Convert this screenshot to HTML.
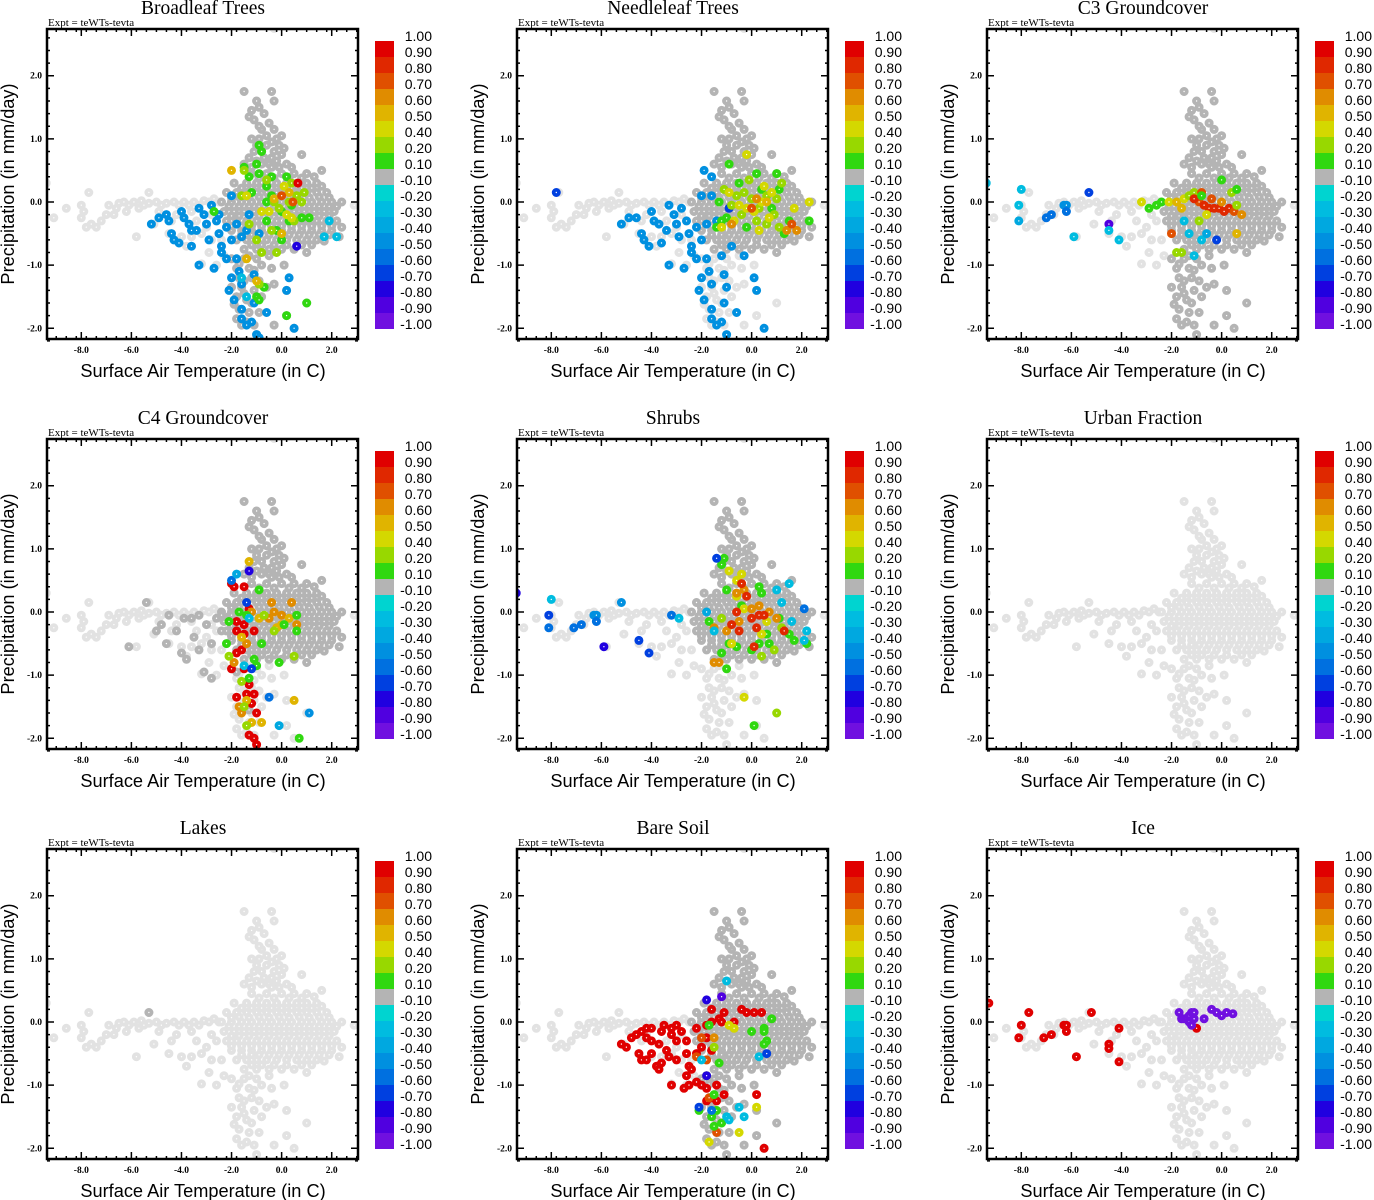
<!DOCTYPE html>
<html><head><meta charset="utf-8"><style>
html,body{margin:0;padding:0;background:#fff;}
svg{display:block;}
.ttl{font-family:"Liberation Serif",serif;font-size:19.5px;}
.expt{font-family:"Liberation Serif",serif;font-size:11px;}
.tick{font-family:"Liberation Serif",serif;font-size:9.5px;font-weight:bold;}
.axt{font-family:"Liberation Sans",sans-serif;font-size:18.2px;}
.cbl{font-family:"Liberation Sans",sans-serif;font-size:14px;}
</style></head><body>
<svg id="fig" xmlns="http://www.w3.org/2000/svg" width="1374" height="1200" viewBox="0 0 1374 1200"></svg>
<script>
// ---- data ----
const panelTitles = ["Broadleaf Trees","Needleleaf Trees","C3 Groundcover","C4 Groundcover","Shrubs","Urban Fraction","Lakes","Bare Soil","Ice"];
const xTicks = [-8,-6,-4,-2,0,2];
const xTickLabels = ["-8.0","-6.0","-4.0","-2.0","0.0","2.0"];
const yTicks = [-2,-1,0,1,2];
const yTickLabels = ["-2.0","-1.0","0.0","1.0","2.0"];
const cbBounds = [1,0.9,0.8,0.7,0.6,0.5,0.4,0.2,0.1,-0.1,-0.2,-0.3,-0.4,-0.5,-0.6,-0.7,-0.8,-0.9,-1];
const cbLabels = ["1.00","0.90","0.80","0.70","0.60","0.50","0.40","0.20","0.10","-0.10","-0.20","-0.30","-0.40","-0.50","-0.60","-0.70","-0.80","-0.90","-1.00"];
const cbColors = ["#e00000","#e02800","#e05000","#e08c00","#e0b400","#d4d800","#98d800","#30d810","#b4b4b4","#00d4d0","#00bce0","#00a8e0","#0090e0","#0070e0","#0040e0","#2000e0","#5000e0","#7010e0"];

const cloudBand = [[-9.1,-0.25],[-8.6,-0.1],[-8.0,-0.05],[-7.9,-0.15],[-7.8,-0.4],[-7.6,-0.35],[-7.4,-0.4],[-7.2,-0.3],[-7.0,-0.2],[-6.9,-0.05],[-6.7,-0.2],[-6.5,-0.02],[-6.3,0.0],[-6.1,-0.05],[-5.9,0.0],[-5.7,-0.1],[-5.5,-0.05],[-5.3,-0.02],[-5.1,-0.35],[-5.0,0.0],[-4.8,-0.05],[-4.6,-0.02],[-4.5,-0.5],[-4.4,-0.3],[-4.3,0.0],[-4.1,-0.05],[-4.0,-0.55],[-3.9,0.0],[-3.8,-0.7],[-3.7,-0.05],[-3.5,0.0],[-3.4,-0.3],[-3.3,-0.05],[-3.1,0.02],[-3.0,-0.4],[-2.9,0.0],[-2.8,-0.6],[-2.7,0.05],[-2.6,-0.3],[-2.5,0.0],[-5.8,-0.55],[-7.7,0.15],[-5.3,0.15],[-8.0,-0.25],[-6.2,-0.15],[-3.2,-0.98],[-2.9,-0.8],[-2.6,-1.0],[2.9,-0.05],[-9.4,0.3],[-0.3,2.75],[-6.6,-0.1],[-5.6,0.02],[-4.9,-0.15],[-4.2,-0.2],[-3.6,-0.15],[-3.2,-0.5],[-2.8,-0.2],[-3.6,-0.55],[-2.4,-0.6],[-2.3,-0.85]];
const cloudCore = [
[-1.2,0.45],[-0.6,0.45],[0.0,0.45],[0.5,0.45],[1.0,0.45],[1.6,0.5],
[-1.9,0.3],[-1.4,0.3],[-1.0,0.3],[-0.6,0.3],[-0.2,0.3],[0.2,0.3],[0.6,0.3],[1.0,0.3],[1.4,0.3],
[-2.2,0.15],[-1.8,0.15],[-1.4,0.15],[-1.0,0.15],[-0.6,0.15],[-0.2,0.15],[0.2,0.15],[0.6,0.15],[1.0,0.15],[1.4,0.15],[1.8,0.15],
[-2.4,0.0],[-2.0,0.0],[-1.6,0.0],[-1.2,0.0],[-0.8,0.0],[-0.4,0.0],[0.0,0.0],[0.4,0.0],[0.8,0.0],[1.2,0.0],[1.6,0.0],[2.0,0.0],[2.4,0.0],
[-2.3,-0.15],[-1.9,-0.15],[-1.5,-0.15],[-1.1,-0.15],[-0.7,-0.15],[-0.3,-0.15],[0.1,-0.15],[0.5,-0.15],[0.9,-0.15],[1.3,-0.15],[1.7,-0.15],[2.1,-0.15],
[-2.2,-0.3],[-1.8,-0.3],[-1.4,-0.3],[-1.0,-0.3],[-0.6,-0.3],[-0.2,-0.3],[0.2,-0.3],[0.6,-0.3],[1.0,-0.3],[1.4,-0.3],[1.8,-0.3],[2.2,-0.3],
[-2.0,-0.45],[-1.6,-0.45],[-1.2,-0.45],[-0.8,-0.45],[-0.4,-0.45],[0.0,-0.45],[0.4,-0.45],[0.8,-0.45],[1.2,-0.45],[1.6,-0.45],[2.0,-0.45],[2.3,-0.55],
[-1.8,-0.6],[-1.4,-0.6],[-1.0,-0.6],[-0.6,-0.6],[-0.2,-0.6],[0.2,-0.6],[0.6,-0.6],[1.0,-0.6],[1.4,-0.6],
[-1.5,-0.75],[-1.0,-0.75],[-0.5,-0.75],[0.0,-0.75],[0.5,-0.75],[1.0,-0.8],
[-1.7,0.08],[-0.9,0.08],[-0.1,0.08],[0.7,0.08],[1.5,0.08],[-1.3,-0.22],[-0.5,-0.22],[0.3,-0.22],[1.1,-0.22],[1.9,-0.22],[-0.9,-0.52],[-0.1,-0.52],[0.7,-0.52],[1.5,-0.52],
[-0.9,0.38],[-0.3,0.38],[0.3,0.38],[0.8,0.38],[1.3,0.4],[-1.6,0.22],[-1.2,0.22],[-0.8,0.22],[-0.4,0.22],[0.0,0.22],[0.4,0.22],[0.8,0.22],[1.2,0.22],[1.6,0.25],
[-2.0,0.07],[-1.3,0.07],[-0.5,0.07],[0.3,0.07],[1.1,0.07],[1.9,0.07],[2.2,-0.07],[-2.1,-0.07],[-1.7,-0.07],[-1.3,-0.07],[-0.9,-0.07],[-0.5,-0.07],[-0.1,-0.07],[0.3,-0.07],[0.7,-0.07],[1.1,-0.07],[1.5,-0.07],[1.9,-0.07],
[-2.0,-0.22],[-1.7,-0.22],[-0.9,-0.22],[-0.1,-0.22],[0.7,-0.22],[1.5,-0.22],[2.4,-0.4],[-2.0,-0.38],[-1.6,-0.38],[-1.2,-0.38],[-0.8,-0.38],[-0.4,-0.38],[0.0,-0.38],[0.4,-0.38],[0.8,-0.38],[1.2,-0.38],[1.6,-0.38],[2.0,-0.38],
[-1.6,-0.52],[-1.2,-0.52],[-0.5,-0.52],[0.3,-0.52],[1.1,-0.52],[1.9,-0.52],[-1.2,-0.68],[-0.8,-0.68],[-0.3,-0.68],[0.2,-0.68],[0.8,-0.68],[1.2,-0.68],[1.7,-0.62]];
const cloudSpike = [[-1.5,1.75],[-0.4,1.75],[-1.0,1.6],[-0.3,1.6],[-0.9,1.5],[-1.3,1.35],[-0.7,1.4],[-1.1,1.3],[-0.5,1.25],[-0.3,1.15],[-0.8,1.15],[-1.2,1.0],[-0.6,1.05],[0.0,1.05],[-1.0,0.9],[-0.4,0.95],[-0.1,0.9],[-1.3,0.7],[-0.8,0.8],[-0.3,0.8],[0.0,0.75],[-1.5,0.6],[-1.0,0.65],[-0.5,0.6],[0.2,0.6],[0.8,0.75],[-0.1,0.55],[-0.7,0.7],[-1.2,0.55],[-0.4,0.55],[-0.9,1.2],[-0.6,0.9],[-0.2,1.0],[-1.1,0.8],[-0.8,0.6],[-0.4,0.7],[0.1,0.85],[-1.2,1.45],[-0.2,0.65],[0.4,0.55],[-0.9,1.0]];
const cloudTail = [[-2.0,-0.9],[-1.5,-0.9],[-1.0,-0.9],[-0.5,-0.85],[-1.8,-1.05],[-1.3,-1.05],[-0.8,-1.0],[-1.7,-1.2],[-1.2,-1.2],[-0.9,-1.25],[-2.0,-1.35],[-1.6,-1.35],[-1.1,-1.4],[-0.6,-1.35],[-1.8,-1.5],[-1.4,-1.55],[-0.8,-1.5],[-1.7,-1.7],[-1.3,-1.75],[-0.9,-1.75],[-1.8,-1.85],[-1.4,-1.9],[-1.1,-1.95],[-0.3,-1.95],[-1.0,-2.1],[0.2,-1.8],[1.0,-1.6],[0.5,-2.0],[0.2,-1.4],[-0.3,-1.3],[0.1,-1.0],[-1.7,-0.98],[-1.1,-1.08],[-1.5,-1.25],[-1.9,-1.62],[-1.5,-1.45],[-1.2,-1.6],[-1.6,-1.95],[-0.4,-1.05],[-1.3,-0.85]];

const darkGroupsByPanel = [["core","spike","tail"],["core","spike"],["core","spike","tail"],["core","spike"],["core","spike"],[],[],["core","spike","tail"],[]];

const broadleafPts = [[-5.2,-0.35,-0.45],[-4.9,-0.25,-0.45],[-4.6,-0.2,-0.45],[-4.4,-0.5,-0.45],[-4.3,-0.6,-0.45],[-4.1,-0.65,-0.45],[-4.0,-0.15,-0.45],[-3.9,-0.25,-0.45],[-3.7,-0.35,-0.45],[-3.6,-0.7,-0.45],[-3.4,-0.45,-0.45],[-3.3,-0.1,-0.45],[-3.1,-0.2,-0.45],[-3.0,-0.35,-0.45],[-2.8,-0.05,-0.45],[-2.9,-0.6,-0.45],[-2.6,-0.3,-0.45],[-2.5,-0.5,-0.45],[-2.4,-0.7,-0.45],[-2.2,-0.4,-0.45],[-2.0,0.1,-0.45],[-2.0,-0.6,-0.45],[-1.8,-0.35,-0.45],[-1.8,-0.9,-0.45],[-2.2,-0.9,-0.45],[-3.3,-1.0,-0.45],[-2.7,-1.05,-0.45],[-2.4,-0.8,-0.45],[-2.0,-1.2,-0.45],[-1.7,-1.1,-0.45],[-1.6,-1.3,-0.45],[-2.1,-1.4,-0.45],[-1.9,-1.55,-0.45],[-1.6,-1.7,-0.45],[-1.6,-1.85,-0.45],[-1.4,-1.95,-0.45],[-1.2,-1.9,-0.45],[-1.0,-2.1,-0.45],[-0.9,-2.15,-0.45],[-1.1,-1.6,-0.45],[-0.6,-1.75,-0.45],[0.3,-1.2,-0.45],[0.2,-1.4,-0.45],[0.5,-2.0,-0.45],[-1.1,-1.15,-0.45],[-2.5,-0.2,-0.45],[-3.6,-0.45,-0.45],[-4.5,-0.3,-0.45],[-1.6,-0.55,-0.45],[-1.3,-0.2,-0.45],[-1.4,-0.45,-0.45],[-0.9,-0.5,-0.45],
[-1.6,-1.2,-0.25],[-1.4,-1.5,-0.25],[1.7,-0.55,-0.25],[1.9,-0.3,-0.25],[2.2,-0.55,-0.25],[0.6,-0.7,-0.8],
[-2.7,-0.15,0.15],[-0.9,0.9,0.15],[-0.8,0.8,0.15],[-1.0,0.6,0.15],[-1.5,0.55,0.15],[-1.3,0.4,0.15],[-0.9,0.45,0.15],[-0.4,0.4,0.15],[-0.6,0.25,0.15],[-1.2,0.15,0.15],[-0.6,0.0,0.15],[0.2,0.4,0.15],[-0.4,0.1,0.15],[0.0,-0.15,0.15],[0.4,-0.05,0.15],[0.8,-0.25,0.15],[-0.6,-0.3,0.15],[0.0,-0.6,0.15],[-0.2,-0.45,0.15],[-0.7,-1.35,0.15],[0.2,-1.8,0.15],[1.0,-1.6,0.15],[-1.0,-1.5,0.15],[-0.9,-1.55,0.15],[1.1,-0.25,0.15],[0.3,-0.3,0.15],
[-1.5,0.5,0.3],[-1.6,0.1,0.3],[-1.3,-0.35,0.3],[-0.8,-0.8,0.3],[-1.0,-0.6,0.3],[-0.2,-0.8,0.3],[-0.4,-0.45,0.3],[0.6,0.1,0.3],[0.8,0.0,0.3],[-0.9,-1.3,0.3],[-0.6,0.35,0.3],[0.3,0.0,0.3],[0.5,-0.3,0.3],[-0.3,0.0,0.3],[-0.1,-0.1,0.3],[0.4,0.3,0.3],[0.9,0.15,0.3],
[-0.5,-0.15,0.45],[0.2,-0.2,0.45],[0.4,-0.25,0.45],[-0.8,-0.15,0.45],[0.1,0.25,0.45],[-1.4,0.1,0.45],
[-2.0,0.5,0.55],[-1.4,-0.9,0.55],[-1.0,-1.25,0.55],[0.0,-0.5,0.55],[-0.3,0.05,0.55],[0.3,0.15,0.55],
[0.0,0.1,0.75],[0.45,0.0,0.75],[0.65,0.3,0.95]];
const needleleafPts = [[-7.8,0.15,-0.65],[-5.2,-0.35,-0.45],[-4.9,-0.25,-0.45],[-4.6,-0.25,-0.45],[-4.4,-0.5,-0.45],[-4.3,-0.6,-0.45],[-4.1,-0.7,-0.45],[-4.0,-0.15,-0.45],[-3.9,-0.3,-0.45],[-3.7,-0.35,-0.45],[-3.6,-0.65,-0.45],[-3.4,-0.45,-0.45],[-3.3,-0.05,-0.45],[-3.1,-0.2,-0.45],[-3.0,-0.35,-0.45],[-2.8,-0.1,-0.45],[-2.9,-0.55,-0.45],[-2.6,-0.3,-0.45],[-2.5,-0.5,-0.45],[-2.4,-0.7,-0.45],[-2.2,-0.4,-0.45],[-2.0,0.1,-0.45],[-2.0,-0.6,-0.45],[-1.8,-0.35,-0.45],[-1.8,-0.9,-0.45],[-2.2,-0.9,-0.45],[-3.3,-1.0,-0.45],[-2.7,-1.05,-0.45],[-2.4,-0.8,-0.45],[-2.0,-1.2,-0.45],[-1.7,-1.1,-0.45],[-1.6,-1.3,-0.45],[-2.1,-1.4,-0.45],[-1.9,-1.55,-0.45],[-1.6,-1.7,-0.45],[-1.6,-1.85,-0.45],[-1.4,-1.95,-0.45],[-1.2,-1.9,-0.45],[-1.0,-2.1,-0.45],[-1.1,-1.6,-0.45],[-0.6,-1.75,-0.45],[0.2,-1.4,-0.45],[0.1,-1.2,-0.45],[0.5,-2.0,-0.45],[-1.1,-1.15,-0.45],[-1.9,0.5,-0.45],[-1.6,0.4,-0.45],[-1.6,0.1,-0.45],[-1.4,-0.3,-0.45],[-1.2,-0.85,-0.45],[-0.8,-0.7,-0.45],[-1.0,-1.35,-0.45],[-0.3,-0.85,-0.45],[-0.9,-0.1,-0.65],
[-1.3,0.0,0.15],[-1.2,-0.3,0.15],[-1.4,-0.4,0.15],[-0.9,0.6,0.15],[0.2,0.45,0.15],[1.0,0.45,0.15],[1.1,0.2,0.15],[0.4,0.2,0.15],[-0.2,-0.4,0.15],[1.5,-0.3,0.15],[2.3,-0.3,0.15],[1.3,-0.5,0.15],[-1.0,-0.25,0.15],[0.8,-0.1,0.15],[-0.5,0.3,0.15],
[-0.6,0.1,0.3],[-0.3,0.15,0.3],[0.0,0.05,0.3],[0.3,-0.1,0.3],[0.6,0.1,0.3],[0.9,-0.2,0.3],[-0.8,-0.05,0.3],[-0.4,-0.2,0.3],[0.2,-0.3,0.3],[0.6,-0.35,0.3],[1.0,0.05,0.3],[-1.1,0.2,0.3],[1.1,-0.4,0.3],[-0.1,0.35,0.3],[1.2,0.3,0.3],
[-0.2,0.75,0.45],[-0.9,0.15,0.45],[-0.5,-0.05,0.45],[0.1,-0.15,0.45],[0.5,0.25,0.45],[0.7,-0.25,0.45],[-0.2,-0.1,0.45],[0.4,0.0,0.45],[-0.7,-0.3,0.45],[2.3,0.0,0.45],[1.7,-0.1,0.45],[-1.2,-0.4,0.45],[0.8,0.15,0.45],[0.3,-0.45,0.45],
[-0.8,-0.35,0.6],[0.2,0.05,0.6],[1.4,-0.45,0.6],[1.8,-0.45,0.6],[0.6,0.0,0.55],[1.6,-0.35,0.75],[0.0,-0.1,0.75]];
const c3Pts = [[-9.4,0.3,-0.25],[-8.0,0.2,-0.25],[-8.1,-0.05,-0.3],[-8.1,-0.3,-0.35],[-7.0,-0.25,-0.55],[-6.8,-0.2,-0.55],[-6.3,-0.05,-0.45],[-6.2,-0.05,-0.45],[-6.2,-0.15,-0.55],[-5.3,0.15,-0.65],[-4.5,-0.35,-0.85],[-4.5,-0.45,-0.3],[-4.1,-0.6,-0.3],[-5.9,-0.55,-0.25],
[-3.2,0.0,0.45],[-2.9,-0.1,0.15],[-2.6,-0.05,0.15],[-2.4,0.0,0.15],[-2.1,0.0,0.45],[-1.8,0.0,0.55],[-1.5,0.05,0.45],[-1.6,-0.1,0.5],[-1.3,0.1,0.3],[-1.1,0.15,0.3],[-0.9,0.0,0.75],[-0.7,-0.05,0.8],[-0.5,-0.1,0.8],[-0.3,-0.1,0.8],[-0.1,-0.1,0.8],[0.1,-0.15,0.8],[0.3,-0.1,0.8],[0.5,-0.15,0.7],[-1.1,0.05,0.85],[-0.8,0.15,0.75],[-0.4,0.05,0.7],[0.0,0.0,0.6],[0.6,-0.05,0.3],[0.4,0.15,0.3],[0.6,0.2,0.15],[0.0,0.35,0.15],[-0.8,0.1,0.15],[-2.0,-0.5,0.75],[-1.8,-0.8,0.3],[-1.6,-0.8,0.3],[-0.9,-0.3,0.3],[0.6,-0.5,0.55],[0.8,-0.2,0.65],[-0.6,-0.2,0.45],[-1.1,-0.85,-0.25],[-1.5,-0.3,-0.25],[-1.3,-0.5,-0.25],[-0.8,-0.6,-0.3],[-0.2,-0.6,-0.7],[-0.6,-0.5,-0.35]];
const c4Pts = [[-5.0,-0.3,0],[-4.6,-0.5,0],[-4.2,-0.3,0],[-4.0,-0.65,0],[-3.8,-0.75,0],[-3.6,-0.1,0],[-3.3,-0.6,0],[-3.0,-0.2,0],[-2.8,-0.5,0],[-2.6,-0.1,0],[-2.4,-0.3,0],[-4.5,-0.05,0],[-3.9,-0.1,0],[-3.3,-0.05,0],[-3.1,-0.95,0],[-2.8,-1.05,0],[-5.4,0.15,0],[-6.1,-0.55,0],[-2.4,-0.05,0],[-2.0,-0.05,0],[-4.8,-0.2,0],[-3.5,-0.4,0],[-1.8,-0.95,0],[-1.3,-1.55,0],
[-2.0,0.45,0.9],[-1.9,0.4,0.9],[-1.5,0.4,0.9],[-1.3,0.05,0.9],[-1.8,-0.15,0.9],[-1.8,-0.3,0.9],[-1.5,-0.2,0.9],[-1.6,-0.6,0.9],[-1.8,-0.65,0.9],[-2.0,-0.9,0.9],[-1.5,-0.9,0.9],[-1.3,-1.15,0.9],[-1.4,-1.3,0.9],[-1.1,-1.3,0.9],[-1.2,-1.45,0.9],[-1.0,-1.6,0.9],[-1.3,-1.95,0.9],[-1.1,-2.0,0.9],[-1.0,-2.1,0.9],[-1.8,-1.35,0.9],[-1.5,-0.35,0.9],[-1.1,-0.3,0.9],
[-1.7,-1.5,0.65],[-1.6,-1.6,0.65],[-0.5,-0.1,0.65],[-0.3,0.0,0.65],[0.0,-0.05,0.65],[-0.4,0.15,0.65],[0.6,-0.2,0.65],[0.4,0.15,0.65],[-1.2,0.0,0.65],[-1.4,-0.5,0.65],[-1.9,-0.8,0.65],
[-1.3,0.8,0.5],[-1.6,-0.4,0.5],[-0.9,-0.1,0.5],[-1.4,-1.4,0.5],[-1.2,-1.75,0.5],[-0.8,-1.75,0.5],[0.5,-1.4,0.5],[0.0,-0.2,0.5],[-0.2,-0.25,0.5],[0.3,-0.1,0.5],
[-1.5,-1.5,0.3],[-1.4,-1.8,0.3],[-2.1,-0.7,0.3],[-1.6,-1.1,0.3],[0.5,-0.7,0.3],[-0.7,-0.05,0.3],[-0.3,-0.3,0.3],
[-2.1,-0.15,0.15],[-2.2,-0.5,0.15],[-1.7,0.0,0.15],[-1.4,-0.05,0.15],[-1.3,-1.05,0.15],[-1.0,-0.85,0.15],[-0.8,-0.5,0.15],[-1.1,-0.75,0.15],[0.6,-0.3,0.15],[0.6,-0.05,0.15],[0.1,-0.2,0.15],[-0.1,-0.8,0.15],[0.7,-2.0,0.15],[-0.9,0.35,0.15],
[-2.0,0.5,-0.6],[-1.8,0.6,-0.35],[-1.3,0.65,-0.8],[-1.4,0.15,-0.7],[-1.5,-0.85,-0.25],[-1.2,-0.9,-0.7],[-0.5,-1.35,-0.55],[-0.1,-1.8,-0.35],[1.1,-1.6,-0.45],[-1.3,-0.1,-0.25]];
const shrubsPts = [[-9.4,0.3,-0.8],[-8.0,0.2,-0.25],[-8.1,-0.05,-0.65],[-8.1,-0.25,-0.55],[-7.1,-0.25,-0.55],[-6.8,-0.2,-0.55],[-6.3,-0.05,-0.45],[-6.2,-0.05,-0.45],[-6.2,-0.15,-0.55],[-5.2,0.15,-0.45],[-5.9,-0.55,-0.8],[-4.5,-0.45,-0.65],[-4.1,-0.65,-0.65],[-3.2,-0.05,-0.55],[-2.9,-0.1,-0.25],
[-1.1,0.85,0.15],[-1.2,0.75,0.15],[-1.7,-0.15,0.15],[-1.0,0.35,0.15],[-0.9,-0.5,0.15],[-0.4,0.1,0.15],[0.3,0.4,0.15],[0.4,0.3,0.15],[1.1,-0.1,0.15],[1.5,-0.35,0.15],[1.7,-0.45,0.15],[2.2,-0.5,0.15],[-1.0,-0.9,0.15],[-0.6,-0.55,0.15],[0.0,-0.6,0.15],[0.3,-0.5,0.15],[0.6,-0.35,0.15],[0.7,-0.5,0.15],[-1.2,-0.65,0.15],[0.1,-1.8,0.15],
[0.9,-0.6,0.3],[1.0,-1.6,0.3],[0.4,-0.7,0.3],[1.2,-0.25,0.3],[-1.2,-0.1,0.3],
[-0.9,0.65,0.45],[-0.4,0.6,0.45],[-0.6,0.5,0.45],[-0.3,-1.35,0.45],[-0.3,0.05,0.45],[0.4,-0.35,0.45],[0.6,-0.15,0.45],[-0.6,0.25,0.45],[-0.8,-0.5,0.45],
[-1.5,-0.8,0.6],[-1.3,-0.8,0.6],[-0.6,0.3,0.6],[-0.3,0.35,0.6],[0.0,0.05,0.6],[0.3,0.1,0.6],[-1.0,-0.3,0.6],[-0.5,-0.15,0.6],[-1.5,-0.25,0.6],[0.7,0.0,0.6],[1.0,-0.1,0.6],
[-0.6,0.0,0.8],[-0.5,-0.3,0.8],[-0.2,0.25,0.8],[0.0,-0.1,0.8],[0.3,-0.05,0.8],[-0.4,0.45,0.8],[0.5,-0.05,0.8],[-0.8,-0.2,0.8],[1.3,-0.3,0.8],[0.2,-0.25,0.8],[0.1,-0.55,0.8],
[1.0,0.35,-0.25],[1.2,0.15,-0.3],[1.5,0.45,-0.25],[2.2,-0.3,-0.3],[-1.5,-0.3,-0.25],[1.6,-0.15,-0.3],[2.1,-0.45,-0.25],[-1.8,0.0,-0.4],[2.1,0.05,-0.55],[-1.4,0.85,-0.65]];
const urbanPts = [];
const lakesPts = [[-5.3,0.15,0]];
const bareSoilPts = [[-5.2,-0.35,0.95],[-5.0,-0.4,0.95],[-4.8,-0.25,0.95],[-4.6,-0.2,0.95],[-4.4,-0.15,0.95],[-4.2,-0.1,0.95],[-4.0,-0.1,0.95],[-4.2,-0.25,0.95],[-4.0,-0.3,0.95],[-4.5,-0.5,0.95],[-4.4,-0.6,0.95],[-4.2,-0.6,0.95],[-4.0,-0.5,0.95],[-3.7,-0.35,0.95],[-3.6,-0.15,0.95],[-3.5,-0.05,0.95],[-3.8,-0.7,0.95],[-3.6,-0.65,0.95],[-3.7,-0.75,0.95],[-3.4,-0.45,0.95],[-3.3,-0.55,0.95],[-3.2,-0.1,0.95],[-3.0,-0.05,0.95],[-3.2,-0.2,0.95],[-3.0,-0.3,0.95],[-2.8,-0.15,0.95],[-2.6,-0.3,0.95],[-3.0,-0.6,0.95],[-2.6,-0.5,0.95],[-2.5,-0.7,0.95],[-2.6,-0.85,0.95],[-2.4,-0.75,0.95],[-2.2,-0.1,0.95],[-2.2,-0.5,0.95],[-2.0,-0.4,0.95],[-1.8,-0.05,0.95],[-1.8,-0.25,0.95],[-1.6,0.0,0.95],[-1.6,0.2,0.95],[-1.3,0.05,0.95],[-1.1,0.15,0.95],[-0.7,0.0,0.95],[-0.4,0.2,0.95],[-0.2,0.15,0.95],[0.1,0.15,0.95],[0.4,0.15,0.95],[-1.6,-0.45,0.95],[-2.5,-1.0,0.95],[-2.2,-0.95,0.95],[-2.0,-1.0,0.95],[-1.8,-1.05,0.95],[-1.6,-1.2,0.95],[-1.8,-1.25,0.95],[-1.4,-1.25,0.95],[-1.1,-1.15,0.95],[0.2,-1.15,0.95],[0.5,-2.0,0.95],[-2.7,-1.05,0.95],[-3.2,-1.0,0.95],[-1.4,-1.0,0.95],[-1.2,0.0,0.95],
[-2.0,-0.25,0.75],[-1.8,-0.6,0.75],[-1.7,-1.2,0.75],[-1.4,-1.75,0.75],[-2.2,-0.55,0.75],[-1.5,-0.25,0.6],
[-0.7,-0.1,0.45],[0.2,-1.35,0.45],[-0.5,-1.75,0.45],[-1.7,-1.9,0.45],[-0.9,-0.05,0.45],
[0.0,-0.15,0.15],[0.5,-0.1,0.15],[0.5,-0.15,0.15],[0.8,0.05,0.15],[0.6,-0.3,0.15],[0.5,-0.35,0.15],[-1.3,-0.65,0.15],[-1.5,-1.15,0.15],[-1.4,-1.4,0.15],[-1.6,-1.5,0.15],[-1.2,-1.6,0.15],[-1.5,-1.65,0.15],[-2.1,-1.4,0.15],[-1.8,-0.85,0.3],[-1.5,-0.4,0.3],[-1.7,-0.05,0.15],
[-1.0,0.65,-0.25],[0.3,-0.55,-0.25],[-0.5,-1.35,-0.25],[-0.3,-1.5,-0.25],[-1.0,-1.5,-0.3],[-2.0,-0.6,-0.25],[-0.9,-1.55,-0.3],
[-1.6,-1.4,-0.55],[-2.1,-1.35,-0.65],[0.6,-0.5,-0.7],[-1.8,0.35,-0.8],[-1.8,-0.85,-0.8],[-1.2,0.4,-0.85]];
const icePts = [[-9.3,0.3,0.95],[-8.0,-0.05,0.95],[-8.1,-0.25,0.95],[-7.7,0.15,0.95],[-7.1,-0.25,0.95],[-6.8,-0.2,0.95],[-6.3,-0.05,0.95],[-6.2,-0.05,0.95],[-6.2,-0.15,0.95],[-5.8,-0.55,0.95],[-5.2,0.15,0.95],[-4.5,-0.35,0.95],[-4.5,-0.42,0.95],[-4.1,-0.1,0.95],[-4.1,-0.63,0.95],[-1.0,-0.1,0.95],
[-1.7,0.15,-0.95],[-1.6,0.05,-0.95],[-1.5,0.05,-0.95],[-1.4,0.05,-0.95],[-1.3,0.1,-0.95],[-1.2,0.15,-0.95],[-1.3,0.0,-0.95],[-1.1,0.15,-0.95],[-1.1,0.05,-0.95],[-0.7,0.05,-0.95],[-0.4,0.2,-0.95],[-0.2,0.15,-0.95],[0.0,0.1,-0.95],[0.2,0.15,-0.95],[0.45,0.13,-0.95],[-1.2,-0.05,-0.95]];
const panelPoints = [broadleafPts,needleleafPts,c3Pts,c4Pts,shrubsPts,urbanPts,lakesPts,bareSoilPts,icePts];

// ---- drawing ----
const NS = "http://www.w3.org/2000/svg";
const svg = document.getElementById("fig");
const PL = 47, PT = 29, PR = 358, PB = 339;
const XMIN = -9.37, XMAX = 3.05, YMIN = -2.17, YMAX = 2.74;
function sx(v){ return PL + (v - XMIN) / (XMAX - XMIN) * (PR - PL); }
function sy(v){ return PB - (v - YMIN) / (YMAX - YMIN) * (PB - PT); }
function colorFor(v){
  for (let i = 0; i < cbColors.length; i++) { if (v >= cbBounds[i+1]) return cbColors[i]; }
  return cbColors[cbColors.length-1];
}
function mk(tag, attrs, parent){
  const e = document.createElementNS(NS, tag);
  for (const k in attrs) e.setAttribute(k, attrs[k]);
  parent.appendChild(e);
  return e;
}
function marker(g, x, y, col, name){
  const c = mk("circle", {cx: sx(x).toFixed(1), cy: sy(y).toFixed(1), r: 2.6, fill: "#fff", stroke: col, "stroke-width": 3.8}, g);
  
  
}
const groups = {core: cloudCore, spike: cloudSpike, tail: cloudTail, band: cloudBand};

for (let p = 0; p < 9; p++) {
  const ox = (p % 3) * 470, oy = Math.floor(p / 3) * 410;
  const g = mk("g", {transform: "translate(" + ox + "," + oy + ")"}, svg);
  
  

  const t = mk("text", {x: 203, y: 14, "text-anchor": "middle", class: "ttl"}, g);
  t.textContent = panelTitles[p];
  
  
  const ex = mk("text", {x: 48, y: 26, class: "expt"}, g);
  ex.textContent = "Expt = teWTs-tevta";
  
  

  const clip = mk("clipPath", {id: "clip" + p}, g);
  mk("rect", {x: PL, y: PT, width: PR - PL, height: PB - PT}, clip);
  const pg = mk("g", {"clip-path": "url(#clip" + p + ")"}, g);
  
  

  for (const k of ["band", "core", "spike", "tail"]) for (const pt of groups[k]) marker(pg, pt[0], pt[1], "#e2e2e2", "cloud-point");
  for (const k of darkGroupsByPanel[p]) for (const pt of groups[k]) marker(pg, pt[0], pt[1], "#b4b4b4", "neutral-point");
  for (const pt of panelPoints[p]) marker(pg, pt[0], pt[1], colorFor(pt[2]), "data-point");

  const fr = mk("rect", {x: PL, y: PT, width: PR - PL, height: PB - PT, fill: "none", stroke: "#000", "stroke-width": 2.5}, g);
  
  
  let d = "";
  for (let v = -9; v <= 3.01; v += 0.4) { const X = sx(v); d += "M"+X+" "+PB+"v-3M"+X+" "+PT+"v3"; }
  for (let v = -2.2; v <= 2.7; v += 0.2) { const Y = sy(v); d += "M"+PL+" "+Y+"h3M"+PR+" "+Y+"h-3"; }
  for (const v of xTicks) { const X = sx(v); d += "M"+X+" "+PB+"v-7M"+X+" "+PT+"v7"; }
  for (const v of yTicks) { const Y = sy(v); d += "M"+PL+" "+Y+"h7M"+PR+" "+Y+"h-7"; }
  const tk = mk("path", {d: d, stroke: "#000", "stroke-width": 1.5, fill: "none"}, g);
  
  
  xTicks.forEach((v, i) => {
    const l = mk("text", {x: sx(v), y: 353, "text-anchor": "middle", class: "tick"}, g);
    l.textContent = xTickLabels[i];
    
    
  });
  yTicks.forEach((v, i) => {
    const l = mk("text", {x: 42, y: sy(v) + 3, "text-anchor": "end", class: "tick"}, g);
    l.textContent = yTickLabels[i];
    
    
  });
  const xt = mk("text", {x: 203, y: 377, "text-anchor": "middle", class: "axt"}, g);
  xt.textContent = "Surface Air Temperature (in C)";
  
  
  const yt = mk("text", {x: 0, y: 0, "text-anchor": "middle", class: "axt", transform: "translate(14,184) rotate(-90)"}, g);
  yt.textContent = "Precipitation (in mm/day)";
  
  

  const cb = mk("g", {}, g);
  
  
  cbColors.forEach((c, i) => {
    const r = mk("rect", {x: 375, y: 41 + i * 16, width: 19, height: 16, fill: c}, cb);
    
    
  });
  cbLabels.forEach((s, i) => {
    const l = mk("text", {x: 432, y: 41 + i * 16, "text-anchor": "end", class: "cbl"}, cb);
    l.textContent = s;
    
    
  });
}
</script>
</body></html>
